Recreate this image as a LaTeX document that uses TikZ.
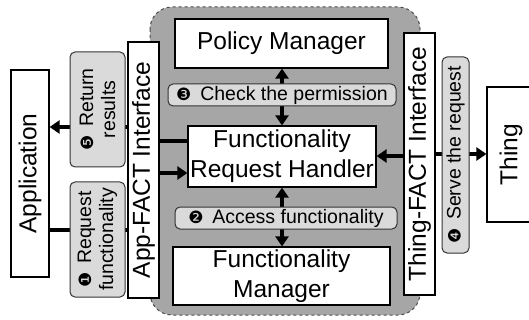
\documentclass[tikz,border=0pt]{standalone}
\usepackage{fontspec}
\setmainfont{Liberation Sans}
\newfontfamily\dingfont{DejaVu Sans}
\usetikzlibrary{arrows.meta}
\definecolor{bggray}{RGB}{166,166,166}
\definecolor{lblgray}{RGB}{218,218,218}
\newcommand\stepnum[1]{{\dingfont\fontsize{17}{17}\selectfont#1}\hspace{0.45em}}
\tikzset{
  box/.style={draw=black,line width=1.2pt,fill=white,inner sep=0pt,align=center,
    font=\fontsize{24.5}{30}\selectfont},
  steplbl/.style={draw=black!80,line width=1pt,fill=lblgray,rounded corners=5pt,
    inner sep=0pt,align=center,font=\fontsize{19.5}{22}\selectfont},
  link/.style={line width=4pt},
  head/.tip={Triangle[length=10pt,width=13pt]}
}
\begin{document}
\begin{tikzpicture}[x=1pt,y=1pt]
      \useasboundingbox (0,0) rectangle (529,-320);
      \draw[dashed,draw=black!70,fill=bggray,rounded corners=22pt,line width=1pt]
      (150,-7) rectangle (420,-315);
      \node[box,rotate=90,minimum width=207pt,minimum height=38pt] (app)     at (30,-173.5)  {Application};
      \node[box,rotate=90,minimum width=256pt,minimum height=31pt] (appif)   at (143.5,-170) {App-FACT Interface};
      \node[box,minimum width=213pt,minimum height=49pt]           (policy)  at (281.5,-43.5) {Policy Manager};
      \node[box,minimum width=188pt,minimum height=61pt]           (handler) at (282,-156.5)  {Functionality\\Request Handler};
      \node[box,minimum width=217pt,minimum height=58pt]           (funcmgr) at (281.5,-276)  {Functionality\\Manager};
      \node[box,rotate=90,minimum width=262pt,minimum height=31pt] (thingif) at (419.5,-164) {Thing-FACT Interface};
      \node[box,rotate=90,minimum width=135pt,minimum height=48pt] (thing)   at (511,-154.5) {Thing};
      % rotated nodes: .north is the left side, .south the right side
      \draw[link,-head] (appif.north |- 0,-127) -- (app.south |- 0,-127);
      \draw[link]       (app.south |- 0,-230)   -- (appif.north |- 0,-230);
      \draw[link]       (appif.south |- 0,-141) -- (handler.west |- 0,-141);
      \draw[link,-head] (appif.south |- 0,-173) -- (handler.west |- 0,-173);
      \foreach \a/\b in {policy.south/handler.north,funcmgr.north/handler.south}
      \draw[link,head-head] (\a -| handler) -- (\b);
      \draw[link,-head] (thingif.north |- 0,-156) -- (handler.east |- 0,-156);
      \draw[link,-head] (thingif.south |- 0,-154) -- (thing.north |- 0,-154);
      \node[steplbl,rotate=90,minimum width=115pt,minimum height=55pt] (retlbl)    at (97.5,-109.5) {\stepnum{❺}Return\\results};
      \node[steplbl,rotate=90,minimum width=115pt,minimum height=55pt] (reqlbl)    at (97.5,-239.5) {\stepnum{❶}Request\\functionality};
      \node[steplbl,minimum width=228pt,minimum height=22pt]           (checklbl)  at (282,-95)     {\stepnum{❸}Check the permission};
      \node[steplbl,minimum width=222pt,minimum height=22pt]           (accesslbl) at (286,-218)    {\stepnum{❷}Access functionality};
      \node[steplbl,rotate=90,minimum width=196pt,minimum height=27pt] (servelbl)  at (455.5,-155)  {\stepnum{❹}Serve the request};
    \end{tikzpicture}
\end{document}
